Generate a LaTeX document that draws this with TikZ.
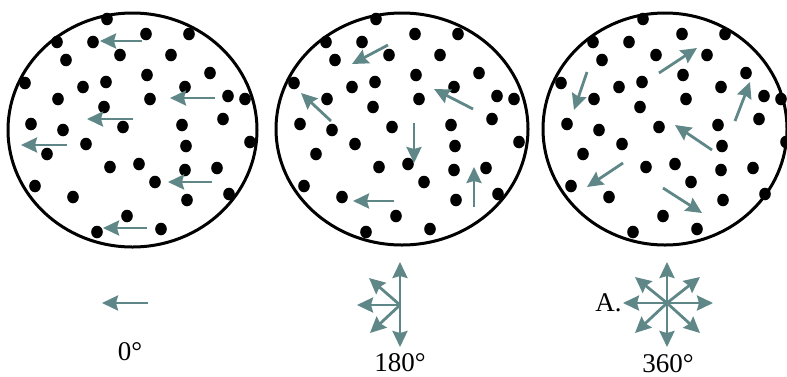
\documentclass[tikz,border=0pt]{standalone}
\usepackage{fontspec}
\setmainfont{Liberation Serif}
\usetikzlibrary{arrows.meta}
\definecolor{vecgray}{RGB}{95,135,135}
\tikzset{
  >={Stealth[length=8pt,width=7.5pt,inset=1pt]},
  disk/.style={draw=black,line width=1.5pt},
  grain/.style={fill=black},
  vec/.style={->,draw=vecgray,line width=1.4pt},
  deglbl/.style={font=\fontsize{13.5}{16}\selectfont,inner sep=0pt},
}
\newcommand\grainfield{%
  \foreach \gx/\gy in {107/19,146/34,189/34,57/42,93/42,120/55,171/55,66/60,
    147/75,210/73,25/83,83/87,106/82,185/87,58/99,150/99,228/96,245/99,
    104/107,31/124,63/130,123/127,182/125,223/119,86/144,186/146,250/142,
    47/154,110/167,139/164,185/170,217/168,155/182,35/186,73/197,187/200,
    229/194,127/216,97/232,161/229}
    {\fill[grain] (\gx,\gy) circle[x radius=5.8,y radius=6.3];}}

\begin{document}
\begin{tikzpicture}[x=0.5pt,y=-0.5pt]
  \useasboundingbox (0,0) rectangle (787,376);
  % 0 degrees
  \begin{scope}
    \draw[disk] (132.5,130) ellipse[x radius=124.5,y radius=117];
    \grainfield
    \draw[vec] (142,41) -- (100,41);
    \draw[vec] (215,98) -- (170,98);
    \draw[vec] (133,119) -- (87,119);
    \draw[vec] (67,145) -- (21,145);
    \draw[vec] (212,182) -- (168,182);
    \draw[vec] (147,228) -- (103,228);
  \end{scope}
  % 180 degrees
  \begin{scope}[shift={(269,0)}]
    \draw[disk] (133,129) ellipse[x radius=126,y radius=116];
    \grainfield
  \end{scope}
  \draw[vec] (388,45) -- (352,64);
  \draw[vec] (331,121) -- (301,93);
  \draw[vec] (473,109) -- (434,89);
  \draw[vec] (414,123) -- (414,163);
  \draw[vec] (394,201) -- (353,201);
  \draw[vec] (474,207) -- (474,167);
  % 360 degrees
  \begin{scope}[shift={(536,0)}]
    \draw[disk] (129,129) ellipse[x radius=122,y radius=116];
    \grainfield
  \end{scope}
  \draw[vec] (659,73) -- (697,48);
  \draw[vec] (587,72) -- (574,110);
  \draw[vec] (735,121) -- (750,82);
  \draw[vec] (712,150) -- (675,125);
  \draw[vec] (623,163) -- (587,187);
  \draw[vec] (663,188) -- (702,213);

  \coordinate (c0) at (148,303);
  \draw[vec] (c0) -- ++(-46,0);
  \node[deglbl] (l0) at (130,352) {0°};

  \coordinate (c180) at (400,305);
  \foreach \tx/\ty in {0/-43,0/42,-43/0,-31/-27,-30/28}
    \draw[vec] (c180) -- ++(\tx,\ty);
  \node[deglbl] (l180) at (400,363) {180°};

  \coordinate (c360) at (667,303);
  \foreach \tx/\ty in {0/-41,0/44,-44/0,46/0,-32/-26,33/-26,-32/30,33/30}
    \draw[vec] (c360) -- ++(\tx,\ty);
  \node[deglbl,anchor=east] (la) at (622,303) {A.};
  \node[deglbl] (l360) at (668,364) {360°};
\end{tikzpicture}
\end{document}
